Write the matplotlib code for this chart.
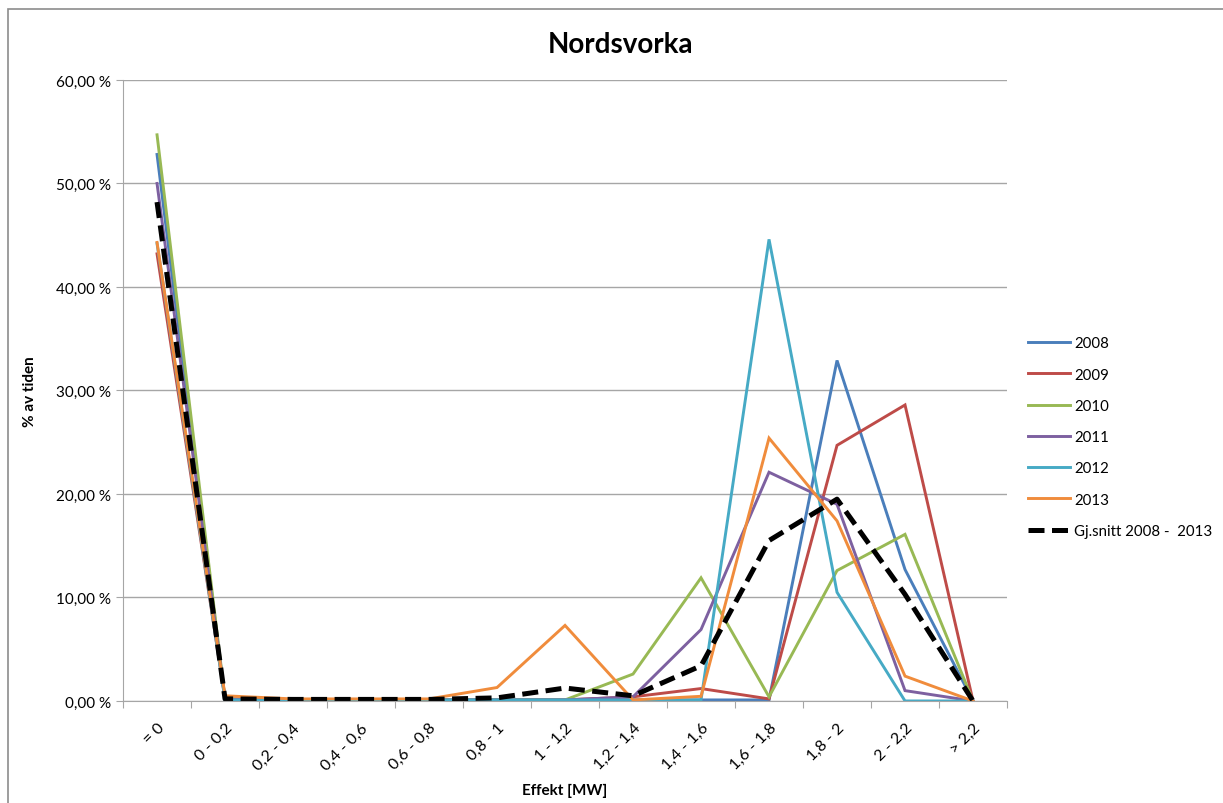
import matplotlib.pyplot as plt
from matplotlib.patches import Rectangle
from matplotlib.ticker import FuncFormatter

plt.rcParams['font.family'] = ['Lato', 'DejaVu Sans']

categories = ["= 0", "0 - 0,2", "0,2 - 0,4", "0,4 - 0,6", "0,6 - 0,8", "0,8 - 1",
              "1 - 1,2", "1,2 - 1,4", "1,4 - 1,6", "1,6 - 1,8", "1,8 - 2", "2 - 2,2", "> 2,2"]

y2008 = [52.8, 0.1, 0.1, 0.1, 0.1, 0.1, 0.1, 0.1, 0.1, 0.1, 32.9, 12.7, 0.0]
y2009 = [43.2, 0.2, 0.1, 0.1, 0.1, 0.1, 0.1, 0.4, 1.2, 0.2, 24.7, 28.6, 0.0]
y2010 = [54.7, 0.2, 0.1, 0.1, 0.1, 0.1, 0.1, 2.6, 11.9, 0.4, 12.6, 16.1, 0.0]
y2011 = [50.0, 0.2, 0.1, 0.1, 0.1, 0.1, 0.1, 0.4, 6.9, 22.1, 19.0, 1.0, 0.0]
y2012 = [44.2, 0.1, 0.1, 0.1, 0.1, 0.1, 0.1, 0.1, 0.1, 44.6, 10.5, 0.0, 0.0]
y2013 = [44.3, 0.5, 0.2, 0.2, 0.2, 1.3, 7.3, 0.1, 0.45, 25.4, 17.4, 2.4, 0.0]
y_avg = [48.2, 0.2, 0.15, 0.15, 0.15, 0.3, 1.25, 0.5, 3.4, 15.5, 19.5, 10.3, 0.0]

series = [
    ("2008", y2008, "#4A7EBB"),
    ("2009", y2009, "#BE4B48"),
    ("2010", y2010, "#98B954"),
    ("2011", y2011, "#7D60A0"),
    ("2012", y2012, "#46AAC5"),
    ("2013", y2013, "#F08C3C"),
]

fig = plt.figure(figsize=(12.23, 8.04), dpi=100)
ax = fig.add_axes([0.1006, 0.1269, 0.7228, 0.7724])

x = list(range(len(categories)))
for label, ys, color in series:
    ax.plot(x, ys, color=color, lw=2.1, label=label, solid_joinstyle="miter")
ax.plot(x, y_avg, color="black", lw=3.6, dashes=(3.2, 1.5), label="Gj.snitt 2008 -  2013")

ax.set_xlim(-0.5, len(categories) - 0.5)
ax.set_ylim(0, 60)
ax.set_yticks(range(0, 61, 10))
ax.yaxis.set_major_formatter(FuncFormatter(lambda v, _: f"{v:.2f}".replace(".", ",") + " %"))
ax.grid(axis="y", color="#A6A6A6", lw=1)
ax.set_axisbelow(True)

# category labels sit between boundary tick marks
ax.set_xticks([i - 0.5 for i in range(len(categories) + 1)])
ax.set_xticklabels([])
ax.set_xticks(x, minor=True)
ax.set_xticklabels(categories, minor=True, rotation=45, ha="right", rotation_mode="anchor", fontsize=11.5)
ax.tick_params(axis="x", which="minor", length=0, pad=14)
ax.tick_params(axis="x", which="major", length=5, color="#A6A6A6")
ax.tick_params(axis="y", length=5, color="#A6A6A6", labelsize=11)

for side in ("top", "right"):
    ax.spines[side].set_visible(False)
for side in ("left", "bottom"):
    ax.spines[side].set_color("#A6A6A6")

ax.set_xlabel("Effekt [MW]", fontsize=11, fontweight="bold", labelpad=8)
ax.set_ylabel("% av tiden", fontsize=11, fontweight="bold", labelpad=14)
fig.text(0.507, 0.944, "Nordsvorka", ha="center", va="center", fontsize=20, fontweight="bold")

ax.legend(loc="center left", bbox_to_anchor=(1.008, 0.425), frameon=False, fontsize=10.8,
          handlelength=2.8, labelspacing=1.15, handletextpad=0.3)

# chart frame
fig.patches.append(Rectangle((0.0065, -0.01), 1.0, 0.998, transform=fig.transFigure,
                             fill=False, edgecolor="#8C8C8C", lw=1.2))

fig.savefig("out.png", dpi=100)
